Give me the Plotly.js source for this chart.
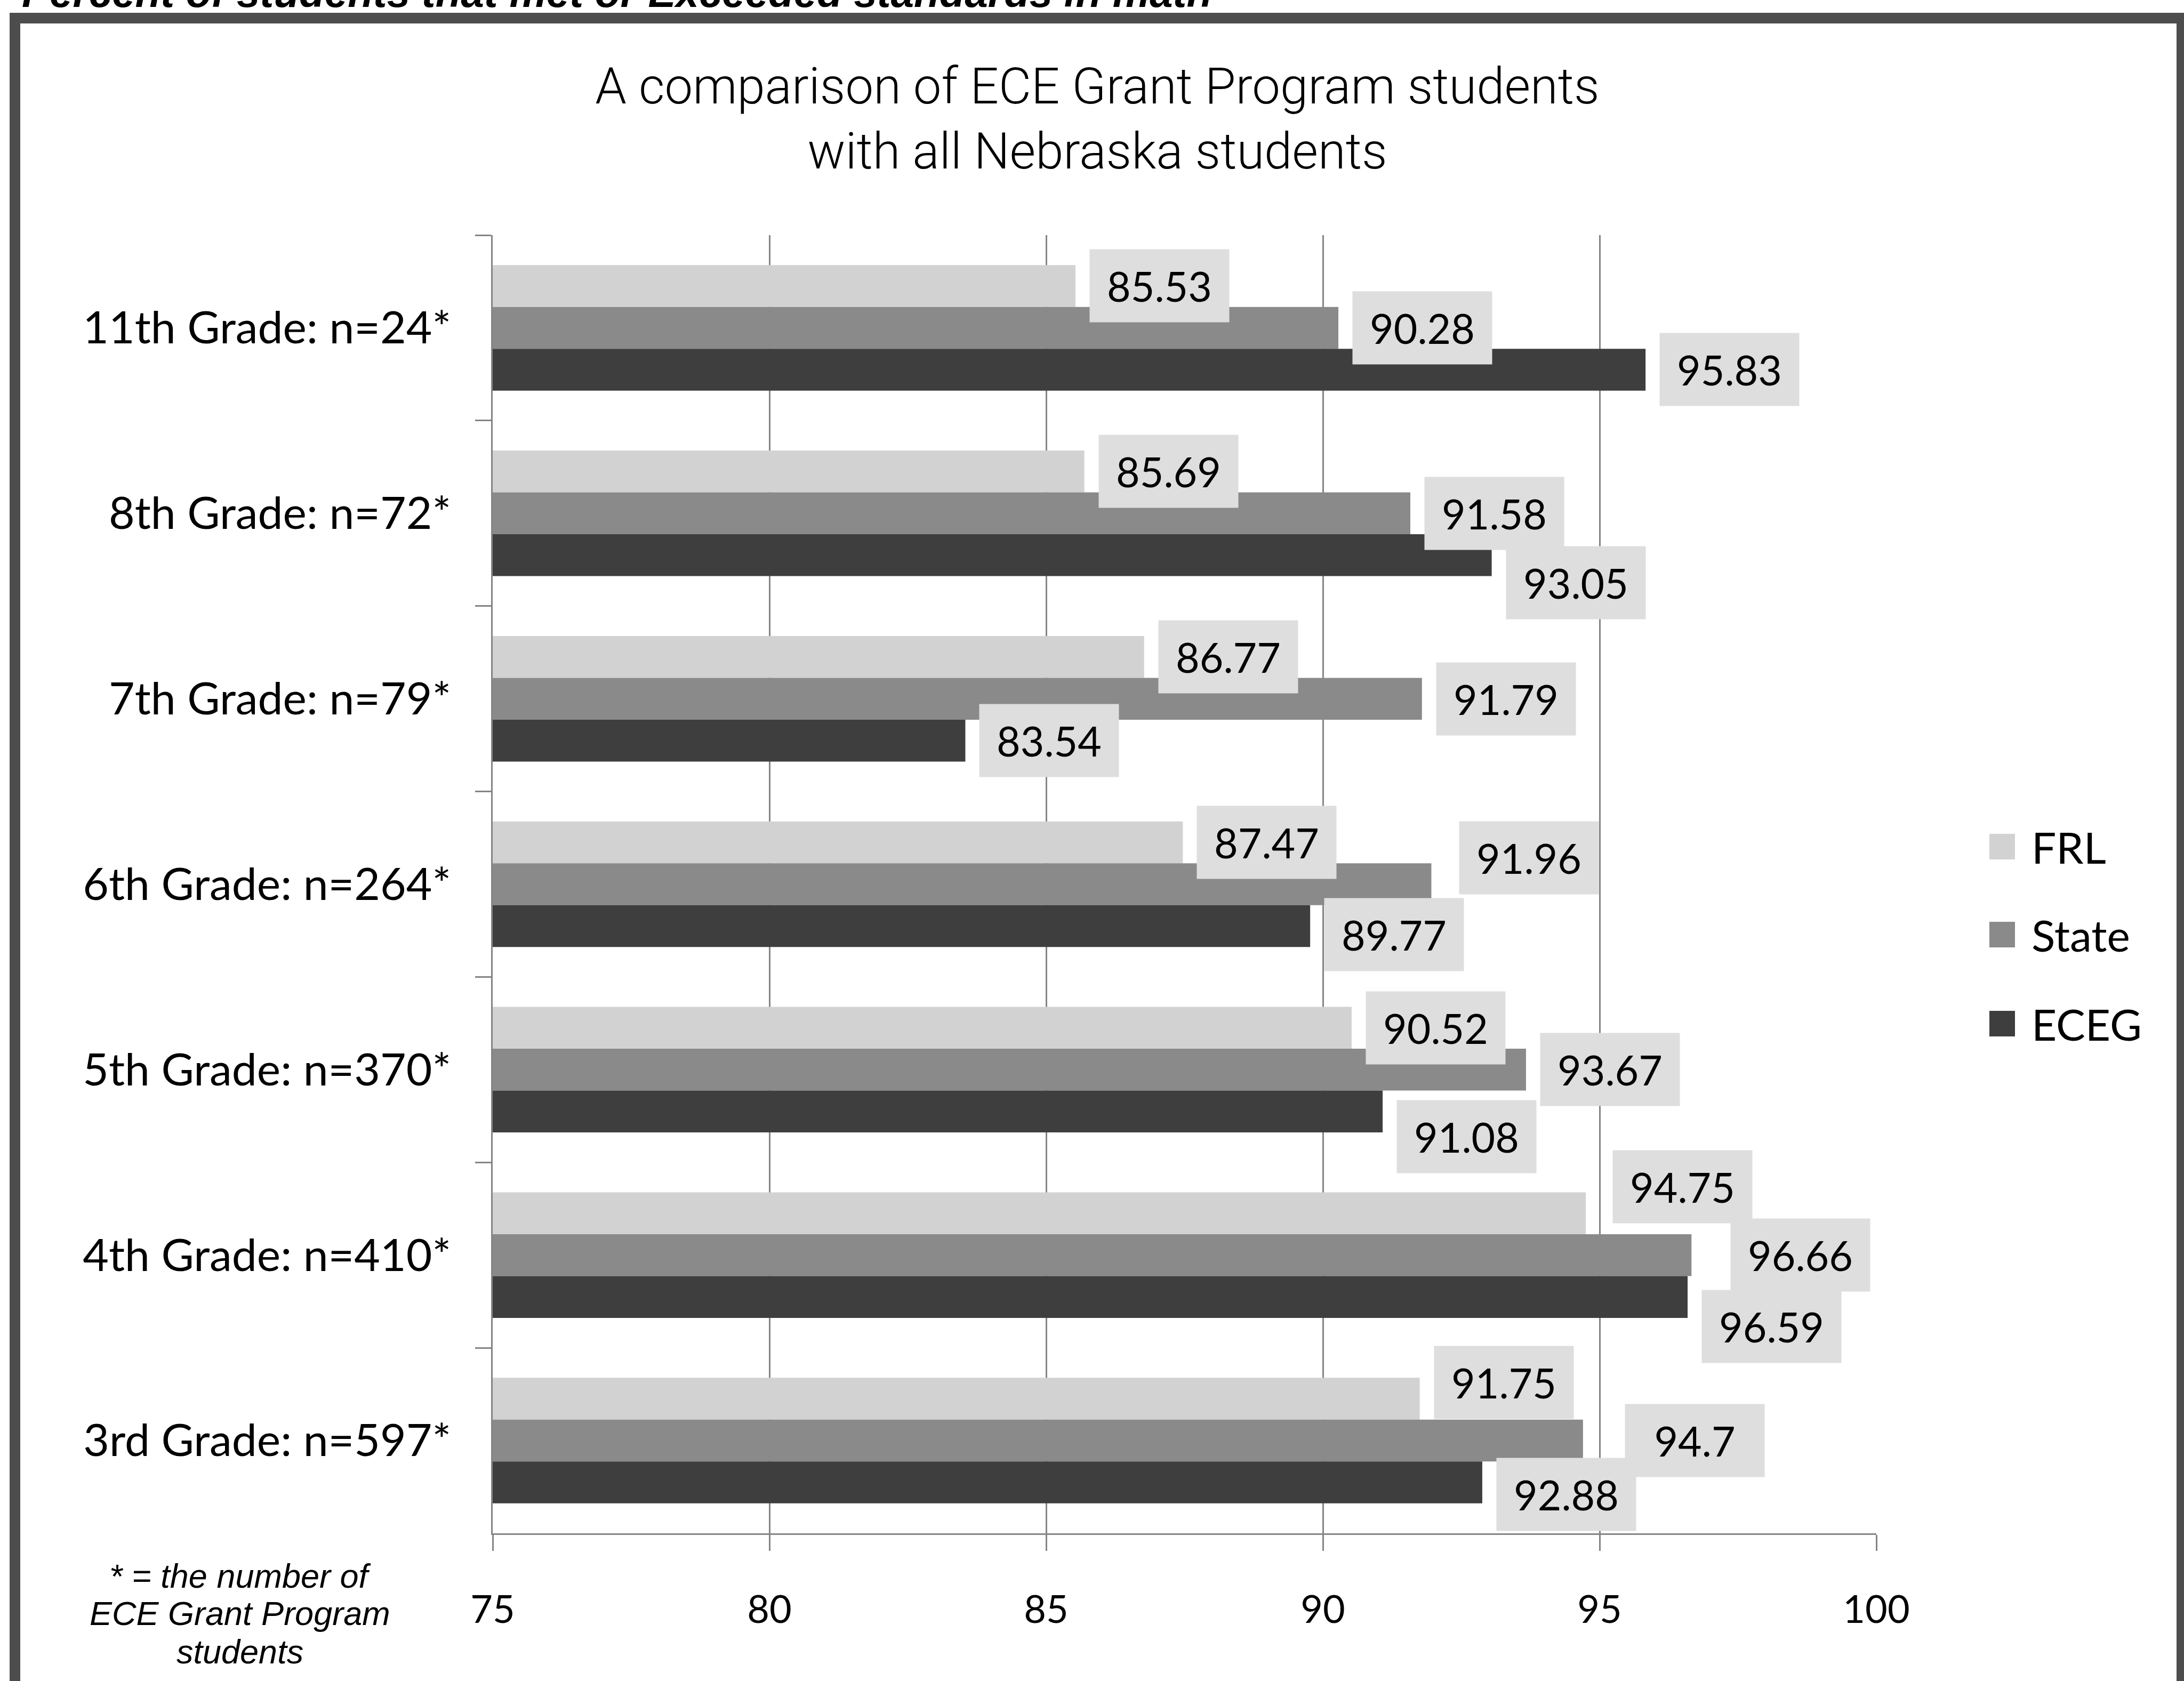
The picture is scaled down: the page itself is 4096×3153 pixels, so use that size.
<!DOCTYPE html>
<html>
<head>
<meta charset="utf-8">
<script src="https://cdn.plot.ly/plotly-3.0.1.min.js"></script>
<style>
  html, body { margin: 0; padding: 0; background: #ffffff; }
  #chart { width: 4096px; height: 3153px; }
</style>
</head>
<body>
<div id="chart"></div>
<script>
// Grade levels, listed top to bottom as they appear on the chart
const grades = [
  '11th Grade: n=24*',
  '8th Grade: n=72*',
  '7th Grade: n=79*',
  '6th Grade: n=264*',
  '5th Grade: n=370*',
  '4th Grade: n=410*',
  '3rd Grade: n=597*'
];

// Percent of students meeting or exceeding the math standard
const frl   = [85.53, 85.69, 86.77, 87.47, 90.52, 94.75, 91.75];
const state = [90.28, 91.58, 91.79, 91.96, 93.67, 96.66, 94.7];
const eceg  = [95.83, 93.05, 83.54, 89.77, 91.08, 96.59, 92.88];

const seriesNames = ['FRL', 'State', 'ECEG'];
const xTicks = [75, 80, 85, 90, 95, 100];

// ---- presentation ----
const W = 4096, H = 3153;
const M = { l: 924, r: 577, t: 441, b: 277 };
const colors = ['#d2d2d2', '#8a8a8a', '#3e3e3e'];
const labelBg = '#dedede';
const gridGray = '#858585';
const FONT = 'Lato, sans-serif';
const BARGAP = 0.323;

// label nudges (px) so the value boxes do not sit on top of each other
const labelDx = [
  [0, 0, 0, 0, 0, 24, 0],
  [0, 0, 0, 26, 0, 47, 52],
  [0, 0, 0, 0, 0, 0, 0]
];
const labelDy = [
  [0, 0, 0, 0, 0, -50, -31],
  [0, 0, 0, -50, 0, 0, 0],
  [0, 52, 0, 16, 47, 55, 22]
];

// pixel -> paper coordinate helpers
const pw = W - M.l - M.r, ph = H - M.t - M.b;
const px = v => (v - M.l) / pw;
const py = v => (H - M.b - v) / ph;

const values = [frl, state, eceg];

const traces = values.map((vals, i) => ({
  type: 'bar',
  orientation: 'h',
  name: seriesNames[i],
  y: grades,
  x: vals,
  marker: { color: colors[i], line: { width: 0 } },
  showlegend: false,
  hoverinfo: 'x+name'
}));

const annotations = [];
const bw = (1 - BARGAP) / 3;

// value boxes next to each bar end
values.forEach((vals, i) => {
  vals.forEach((v, j) => {
    annotations.push({
      xref: 'x', yref: 'y',
      x: v, y: j + (i - 1) * bw,
      text: String(v),
      showarrow: false,
      xanchor: 'left', yanchor: 'middle',
      xshift: 26 + labelDx[i][j],
      yshift: -labelDy[i][j],
      bgcolor: labelBg,
      borderpad: 16,
      width: 229, height: 104,
      align: 'center',
      font: { family: FONT, size: 77, color: '#000000' }
    });
  });
});

// legend entries
const legendY = [1588, 1753, 1920];
const shapes = [];
seriesNames.forEach((name, i) => {
  shapes.push({
    type: 'rect', xref: 'paper', yref: 'paper',
    x0: px(3731), x1: px(3779),
    y0: py(legendY[i] + 24), y1: py(legendY[i] - 24),
    fillcolor: colors[i], line: { width: 0 }
  });
  annotations.push({
    xref: 'paper', yref: 'paper',
    x: px(3808), y: py(legendY[i]),
    xanchor: 'left', yanchor: 'middle',
    text: name, showarrow: false,
    font: { family: FONT, size: 82, color: '#000000' }
  });
});

// outer frame
shapes.push({
  type: 'rect', xref: 'paper', yref: 'paper',
  x0: px(28), x1: px(4092), y0: py(3400), y1: py(34),
  line: { color: '#4d4d4d', width: 20 }, fillcolor: 'rgba(0,0,0,0)'
});

// heading above the frame (its upper part runs past the page edge)
annotations.push({
  xref: 'paper', yref: 'paper',
  x: px(39), y: py(-14),
  xanchor: 'left', yanchor: 'middle',
  text: '<b><i>Percent of students that met or Exceeded standards in math</i></b>',
  showarrow: false,
  font: { family: 'Liberation Sans, Arial, sans-serif', size: 78, color: '#000000' }
});

// footnote for the n values
const noteLines = ['* = the number of', 'ECE Grant Program', 'students'];
const noteY = [2956, 3026, 3098];
noteLines.forEach((t, i) => {
  annotations.push({
    xref: 'paper', yref: 'paper',
    x: px(450), y: py(noteY[i]),
    xanchor: 'center', yanchor: 'middle',
    text: '<i>' + t + '</i>', showarrow: false,
    font: { family: 'Liberation Sans, Arial, sans-serif', size: 63, color: '#000000' }
  });
});

const layout = {
  width: W, height: H,
  margin: M,
  paper_bgcolor: '#ffffff',
  plot_bgcolor: '#ffffff',
  barmode: 'group',
  bargap: BARGAP,
  bargroupgap: 0,
  showlegend: false,
  title: {
    text: 'A comparison of ECE Grant Program students<br>with all Nebraska students',
    font: { family: 'Roboto, sans-serif', size: 94, color: '#000000', weight: 300 },
    xref: 'container', x: 2058 / W, xanchor: 'center',
    yref: 'container', y: 1 - 194 / H, yanchor: 'top'
  },
  xaxis: {
    range: [75, 100],
    tickvals: xTicks,
    ticktext: xTicks.map(String),
    showgrid: true, gridcolor: gridGray, gridwidth: 3,
    zeroline: false,
    showline: true, linecolor: gridGray, linewidth: 3,
    ticks: 'outside', ticklen: 30, tickwidth: 3, tickcolor: gridGray,
    ticklabelstandoff: 49,
    tickfont: { family: FONT, size: 72, color: '#000000' },
    fixedrange: true
  },
  yaxis: {
    type: 'category',
    categoryorder: 'array',
    categoryarray: grades,
    autorange: 'reversed',
    showgrid: false,
    zeroline: false,
    showline: true, linecolor: gridGray, linewidth: 3,
    ticks: 'outside', tickson: 'boundaries', ticklen: 30, tickwidth: 3, tickcolor: gridGray,
    ticklabelstandoff: 58,
    tickfont: { family: FONT, size: 84, color: '#000000' },
    fixedrange: true
  },
  annotations: annotations,
  shapes: shapes
};

Plotly.newPlot('chart', traces, layout, { displayModeBar: false, staticPlot: true });
</script>
</body>
</html>
